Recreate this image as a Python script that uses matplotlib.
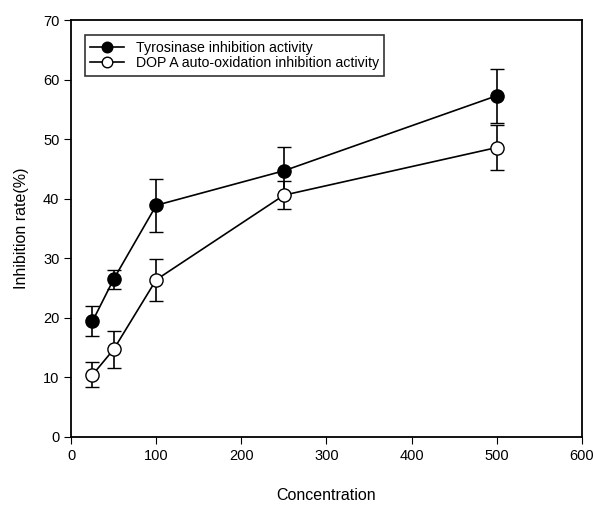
import matplotlib.pyplot as plt

plt.rcParams['font.family'] = ['Liberation Sans', 'DejaVu Sans']

conc = [25, 50, 100, 250, 500]
tyr = [19.4, 26.5, 38.9, 44.7, 57.3]
tyr_err = [2.5, 1.6, 4.5, 4.0, 4.5]
dopa = [10.4, 14.7, 26.4, 40.6, 48.6]
dopa_err = [2.1, 3.1, 3.5, 2.4, 3.8]

fig = plt.figure(figsize=(5.93, 5.05), dpi=100)
ax = fig.add_axes([0.12, 0.135, 0.861, 0.825])

e1 = ax.errorbar(conc, tyr, yerr=tyr_err, color='black', marker='o', markersize=9.5,
                 markerfacecolor='black', capsize=5, elinewidth=1.2, linewidth=1.2)
e2 = ax.errorbar(conc, dopa, yerr=dopa_err, color='black', marker='o', markersize=9.5,
                 markerfacecolor='white', capsize=5, elinewidth=1.2, linewidth=1.2)

ax.set_xlim(0, 600)
ax.set_ylim(0, 70)
ax.set_xticks(range(0, 601, 100))
ax.set_yticks(range(0, 71, 10))
ax.tick_params(direction='out', length=5, labelsize=10.5, right=False, top=False)
for s in ax.spines.values():
    s.set_linewidth(1.3)

ax.set_xlabel('Concentration', fontsize=11.5, labelpad=18)
ax.set_ylabel('Inhibition rate(%)', fontsize=11.5, labelpad=10)

# legend without the error bars, just line + marker
leg = ax.legend([e1.lines[0], e2.lines[0]],
                ['Tyrosinase inhibition activity', 'DOP A auto-oxidation inhibition activity'],
                loc='upper left', bbox_to_anchor=(0.027, 0.964), borderaxespad=0,
                fontsize=10.2, frameon=True, fancybox=False, edgecolor='black',
                markerscale=0.8, handlelength=2.4, handletextpad=0.8,
                borderpad=0.38, labelspacing=0.12)
leg.get_frame().set_linewidth(1.2)

fig.savefig('out.png', dpi=100)
